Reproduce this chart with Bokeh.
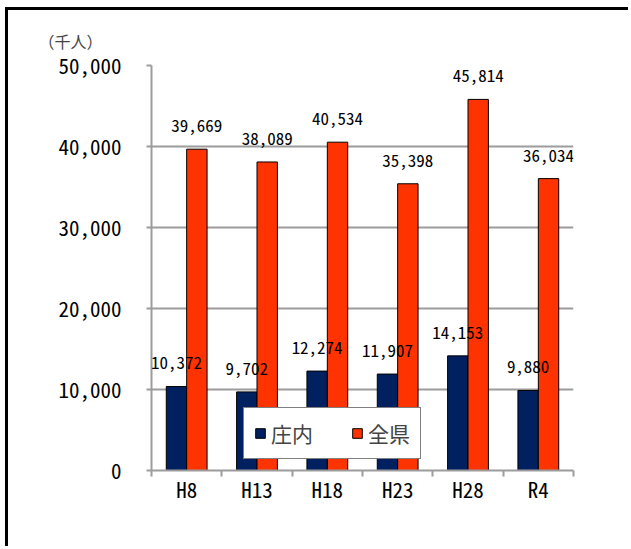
from bokeh.plotting import figure
from bokeh.models import (ColumnDataSource, LabelSet, FixedTicker, NumeralTickFormatter,
                          Range1d, Legend, LegendItem)
from bokeh.core.properties import value
from bokeh.embed import file_html
from bokeh.resources import INLINE

# 観光入込客数（千人）
categories = ["H8", "H13", "H18", "H23", "H28", "R4"]
shonai = [10372, 9702, 12274, 11907, 14153, 9880]
zenken = [39669, 38089, 40534, 35398, 45814, 36034]
y_ticks = [0, 10000, 20000, 30000, 40000, 50000]

FONT = "Noto Sans Mono CJK JP"
NAVY = "#002060"
RED = "#FF3300"
GRID = "#9c9c9c"
BAR_W = 0.29

centers = [i + 0.5 for i in range(len(categories))]
src = ColumnDataSource(dict(
    x_s=[c - BAR_W / 2 for c in centers],
    x_z=[c + BAR_W / 2 for c in centers],
    shonai=shonai,
    zenken=zenken,
    lab_s=[f"{v:,}" for v in shonai],
    lab_z=[f"{v:,}" for v in zenken],
))

p = figure(width=623, height=539, output_backend="svg", toolbar_location=None,
           x_range=Range1d(0, len(categories)), y_range=Range1d(0, 50000),
           min_border_left=143, min_border_right=58, min_border_top=55,
           min_border_bottom=79)
p.outline_line_color = None
p.background_fill_color = "white"
p.border_fill_color = "white"
# page frame: black rule along the left and top edges of the chart area
p.styles = {"margin-left": "8px", "margin-top": "10px",
            "box-shadow": "-3px -3px 0px 0px black"}

# unit caption at the top left
p.title.text = "（千人）"
p.title.text_font = FONT
p.title.text_font_size = "16px"
p.title.text_font_style = "normal"
p.title.align = "left"
p.title.offset = -113
p.title.standoff = 26

r_s = p.vbar(x="x_s", top="shonai", width=BAR_W, source=src,
             fill_color=NAVY, line_color="black", line_width=1)
r_z = p.vbar(x="x_z", top="zenken", width=BAR_W, source=src,
             fill_color=RED, line_color="black", line_width=1)

for col_x, col_y, col_t in (("x_s", "shonai", "lab_s"), ("x_z", "zenken", "lab_z")):
    p.add_layout(LabelSet(x=col_x, y=col_y, text=col_t, source=src,
                          text_align="center", text_baseline="alphabetic",
                          y_offset=17, text_font=value(FONT),
                          text_font_size="17px", text_color="black"))

# y axis
yax = p.yaxis[0]
yax.ticker = FixedTicker(ticks=y_ticks)
yax.formatter = NumeralTickFormatter(format="0,0")
yax.axis_line_color = GRID
yax.axis_line_width = 2
yax.major_tick_line_color = GRID
yax.major_tick_line_width = 2
yax.major_tick_out = 5
yax.major_tick_in = 0
yax.minor_tick_line_color = None
yax.major_label_text_font = FONT
yax.major_label_text_font_size = "21px"
yax.major_label_text_font_style = "normal"
yax.major_label_text_color = "black"
yax.major_label_standoff = 25

# x axis: labels at category centres, ticks on category boundaries
xax = p.xaxis[0]
xax.ticker = FixedTicker(ticks=centers, minor_ticks=list(range(len(categories) + 1)))
xax.major_label_overrides = {c: name for c, name in zip(centers, categories)}
xax.axis_line_color = GRID
xax.axis_line_width = 2
xax.major_tick_line_color = None
xax.major_tick_out = 0
xax.major_tick_in = 0
xax.minor_tick_line_color = GRID
xax.minor_tick_line_width = 2
xax.minor_tick_out = 6
xax.minor_tick_in = 0
xax.major_label_text_font = FONT
xax.major_label_text_font_size = "21px"
xax.major_label_text_font_style = "normal"
xax.major_label_text_color = "black"
xax.major_label_standoff = -3

p.xgrid.grid_line_color = None
p.ygrid.ticker = FixedTicker(ticks=y_ticks)
p.ygrid.grid_line_color = GRID
p.ygrid.grid_line_width = 2

legend = Legend(items=[LegendItem(label="庄内", renderers=[r_s]),
                       LegendItem(label="全県", renderers=[r_z])],
                orientation="horizontal", location=(92, 11), margin=0,
                label_text_font=FONT, label_text_font_size="21px",
                glyph_width=12, glyph_height=12, label_standoff=5,
                label_height=20, spacing=38, padding=10,
                border_line_color="black", border_line_width=1,
                background_fill_color="white", background_fill_alpha=1)
p.add_layout(legend, "center")

open("out.html", "w").write(file_html(p, INLINE))
